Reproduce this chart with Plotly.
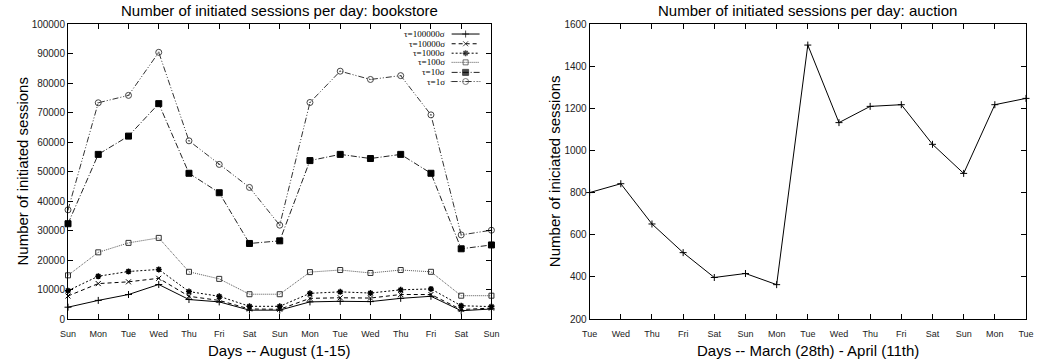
import plotly.graph_objects as go

# ---------------- data ----------------
days_bookstore = ["Sun", "Mon", "Tue", "Wed", "Thu", "Fri", "Sat", "Sun",
                  "Mon", "Tue", "Wed", "Thu", "Fri", "Sat", "Sun"]
days_auction = ["Tue", "Wed", "Thu", "Fri", "Sat", "Sun", "Mon", "Tue",
                "Wed", "Thu", "Fri", "Sat", "Sun", "Mon", "Tue"]

series_names = ["τ=100000σ", "τ=10000σ", "τ=1000σ", "τ=100σ", "τ=10σ", "τ=1σ"]

tau_100000 = [4000, 6300, 8300, 11700, 6600, 5800, 3000, 3000,
              5800, 6000, 5900, 7000, 7700, 2800, 3400]
tau_10000 = [7800, 12000, 12600, 13800, 7700, 6300, 3400, 3300,
             7000, 7200, 7100, 8300, 8300, 3200, 3700]
tau_1000 = [9600, 14500, 16100, 16800, 9300, 7700, 4300, 4300,
            8700, 9200, 8800, 9900, 10200, 4500, 4200]
tau_100 = [14800, 22600, 25800, 27500, 16000, 13600, 8400, 8400,
           15900, 16600, 15600, 16600, 16000, 7900, 7900]
tau_10 = [32300, 55800, 62000, 73000, 49400, 42800, 25600, 26500,
          53700, 55800, 54400, 55800, 49400, 23800, 25100]
tau_1 = [37000, 73300, 75800, 90400, 60400, 52400, 44600, 31800,
         73400, 84000, 81200, 82500, 69200, 28500, 30100]

auction_sessions = [800, 842, 651, 515, 397, 416, 363, 1500,
                    1132, 1209, 1217, 1029, 891, 1217, 1247]

bookstore_yticks = [0, 10000, 20000, 30000, 40000, 50000, 60000, 70000, 80000, 90000, 100000]
auction_yticks = [200, 400, 600, 800, 1000, 1200, 1400, 1600]

# ---------------- styles ----------------
FONT = "Liberation Sans, Arial, Helvetica, sans-serif"
styles = [
    dict(dash="solid", color="black", symbol="cross-thin-open", size=5, mcolor="black", lw=1),
    dict(dash="4px,3px", color="black", symbol="x-thin-open", size=5, mcolor="black", lw=1),
    dict(dash="2px,2px", color="black", symbol="asterisk-open", size=5, mcolor="black", lw=1.5),
    dict(dash="1px,1px", color="#555555", symbol="square-open", size=5, mcolor="#333333", lw=1),
    dict(dash="6px,2px,1px,2px", color="#222222", symbol="square", size=6, mcolor="black", lw=1),
    dict(dash="6px,2px,1px,2px,1px,2px", color="#333333", symbol="circle-open-dot", size=6, mcolor="#444444", lw=1),
]
bookstore_series = [tau_100000, tau_10000, tau_1000, tau_100, tau_10, tau_1]

fig = go.Figure()
xb = list(range(len(days_bookstore)))
xa = list(range(len(days_auction)))

for name, vals, st in zip(series_names, bookstore_series, styles):
    fig.add_trace(go.Scatter(
        x=xb, y=vals, name=name, mode="lines+markers",
        line=dict(color=st["color"], width=1, dash=st["dash"]),
        marker=dict(symbol=st["symbol"], size=st["size"], color=st["mcolor"],
                    line=dict(color=st["mcolor"], width=st["lw"])),
        xaxis="x", yaxis="y", showlegend=False, cliponaxis=False))

fig.add_trace(go.Scatter(
    x=xa, y=auction_sessions, mode="lines+markers",
    line=dict(color="black", width=1),
    marker=dict(symbol="cross-thin-open", size=5, color="black", line=dict(color="black", width=1)),
    xaxis="x2", yaxis="y2", showlegend=False, cliponaxis=False))

# custom gnuplot-style legend (text right-aligned, line sample to the right)
leg_rows = [0.966, 0.933, 0.901, 0.870, 0.836, 0.805]
leg_x = [0.906, 0.939, 0.972]
for name, st, ry in zip(series_names, styles, leg_rows):
    fig.add_trace(go.Scatter(
        x=leg_x, y=[ry] * 3, mode="lines+markers",
        line=dict(color=st["color"], width=1, dash=st["dash"]),
        marker=dict(symbol=st["symbol"], size=[0, st["size"], 0], color=st["mcolor"],
                    line=dict(color=st["mcolor"], width=st["lw"])),
        xaxis="x3", yaxis="y3", showlegend=False, hoverinfo="skip"))
    fig.add_annotation(x=0.895, y=ry, xref="x3", yref="y3", text=name, showarrow=False,
                       xanchor="right", yanchor="middle",
                       font=dict(family="Liberation Serif, Times New Roman, serif", size=9, color="black"))

ax_common = dict(showline=True, linecolor="black", linewidth=1, mirror="allticks",
                 ticks="inside", ticklen=5, tickcolor="black", showgrid=False,
                 zeroline=False)
xfont = dict(family=FONT, size=9, color="#222222")
yfont = dict(family=FONT, size=10, color="#222222")

dom1 = [0.0, 0.442]
dom2 = [0.5445, 1.0]

fig.update_layout(
    width=1041, height=364,
    margin=dict(l=68, r=7, t=24, b=45),
    paper_bgcolor="white", plot_bgcolor="white",
    xaxis=dict(domain=dom1, range=[0, 14], tickvals=xb, ticktext=days_bookstore,
               anchor="y", ticklabelstandoff=6, tickfont=xfont, **ax_common),
    yaxis=dict(domain=[0, 1], range=[0, 100000], tickvals=bookstore_yticks,
               ticktext=[str(v) for v in bookstore_yticks], anchor="x", tickfont=yfont, **ax_common),
    xaxis2=dict(domain=dom2, range=[0, 14], tickvals=xa, ticktext=days_auction,
                anchor="y2", ticklabelstandoff=6, tickfont=xfont, **ax_common),
    yaxis2=dict(domain=[0, 1], range=[200, 1600], tickvals=auction_yticks,
                ticktext=[str(v) for v in auction_yticks], anchor="x2", tickfont=yfont, **ax_common),
    xaxis3=dict(range=[0, 1], visible=False, overlaying="x", anchor="y3"),
    yaxis3=dict(range=[0, 1], visible=False, overlaying="y", anchor="x3"),
    showlegend=False,
)

title_font = dict(family=FONT, size=15, color="black")
# subplot titles
fig.add_annotation(x=sum(dom1) / 2, y=1, xref="paper", yref="paper", xanchor="center", yanchor="bottom",
                   yshift=3, text="Number of initiated sessions per day: bookstore", showarrow=False,
                   font=title_font)
fig.add_annotation(x=sum(dom2) / 2, y=1, xref="paper", yref="paper", xanchor="center", yanchor="bottom",
                   yshift=3, text="Number of initiated sessions per day: auction", showarrow=False,
                   font=title_font)
# axis titles
fig.add_annotation(x=sum(dom1) / 2, y=0, xref="paper", yref="paper", xanchor="center", yanchor="middle",
                   yshift=-31, text="Days -- August (1-15)", showarrow=False, font=title_font)
fig.add_annotation(x=sum(dom2) / 2, y=0, xref="paper", yref="paper", xanchor="center", yanchor="middle",
                   yshift=-31, text="Days -- March (28th) - April (11th)", showarrow=False, font=title_font)
fig.add_annotation(x=dom1[0], y=0.5, xref="paper", yref="paper", xanchor="center", yanchor="middle",
                   xshift=-46, textangle=-90, text="Number of initiated sessions", showarrow=False,
                   font=title_font)
fig.add_annotation(x=dom2[0], y=0.5, xref="paper", yref="paper", xanchor="center", yanchor="middle",
                   xshift=-35, textangle=-90, text="Number of iniciated sessions", showarrow=False,
                   font=title_font)

fig.write_html("out.html")
